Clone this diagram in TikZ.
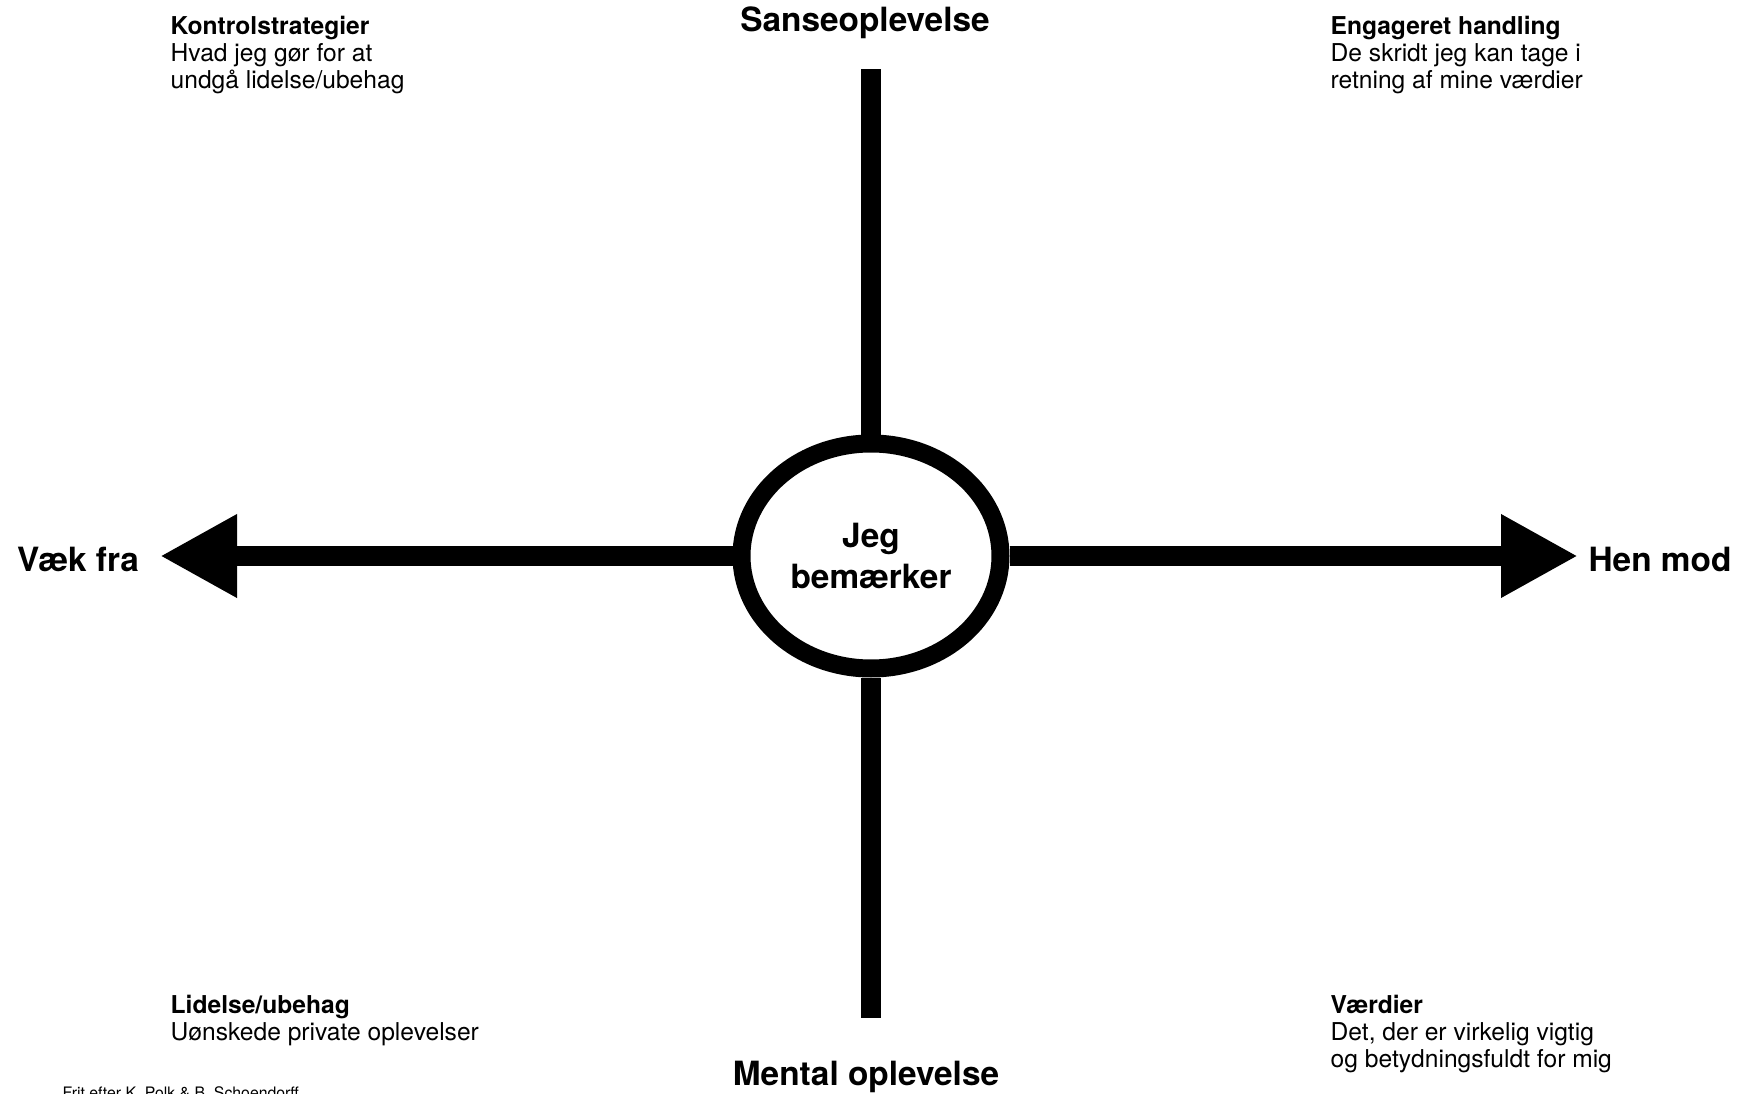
\documentclass[tikz,border=0pt]{standalone}
\usepackage{fontspec}
\setmainfont{TeX Gyre Heros}
\usetikzlibrary{arrows.meta,shapes.geometric}
\begin{document}
\begin{tikzpicture}

      % Styles for the thick axes, the labels at their ends and the four corner texts
      \tikzstyle{axis}=[line width=0.2cm, line cap=butt]
      \tikzstyle{axisarrow}=[axis, -{Triangle[length=0.77cm,width=0.78cm]}]
      \tikzstyle{pole}=[font=\fontsize{9.5}{11.4}\selectfont\bfseries, inner sep=0]
      \tikzstyle{corner}=[font=\fontsize{7}{7.7}\selectfont, align=left, anchor=north west, inner sep=0]
      \tikzstyle{credit}=[font=\fontsize{4.5}{5}\selectfont, anchor=base west, inner sep=0]


      % Define dimensions
      \def\cx{8.71}     % Centre of the cross
      \def\cy{5.37}

      \def\ew{2.59}     % Width of the ellipse
      \def\eh{2.25}     % Height of the ellipse

      \def\lx{1.70}     % Left edge of the left corner texts
      \def\rx{13.30}    % Left edge of the right corner texts


      \useasboundingbox (0,0) rectangle (17.48,10.93);

      % The ellipse in the middle
      \node (jeg) [draw, ellipse, line width=0.18cm, minimum width=\ew cm, minimum height=\eh cm,
                   pole, align=center] at (\cx,\cy) {Jeg\\bemærker};

      % Free ends of the four axes
      \coordinate (top)    at (\cx,10.24);
      \coordinate (bottom) at (\cx,0.75);
      \coordinate (left)   at (1.60,\cy);
      \coordinate (right)  at (15.78,\cy);

      % Draw the axes
      \draw [axis] (jeg.north) -- (top);
      \draw [axis] (jeg.south) -- (bottom);
      \draw [axisarrow] (jeg.west) -- (left);     % arrow pointing away
      \draw [axisarrow] (jeg.east) -- (right);    % arrow pointing towards

      % Labels at the ends of the axes
      \node (sanse)  [pole] at (8.65,10.70) {Sanseoplevelse};
      \node (mental) [pole] at (8.66,0.16)  {Mental oplevelse};
      \node (vaek)   [pole] at (0.78,5.34)  {Væk fra};
      \node (hen)    [pole] at (16.60,5.34) {Hen mod};

      % The four corners
      \node (kontrol)   [corner] at (\lx,10.774) {\textbf{Kontrolstrategier}\\Hvad jeg gør for at\\undgå lidelse/ubehag};
      \node (engageret) [corner] at (\rx,10.774) {\textbf{Engageret handling}\\De skridt jeg kan tage i\\retning af mine værdier};
      \node (lidelse)   [corner] at (\lx,0.989)  {\textbf{Lidelse/ubehag}\\Uønskede private oplevelser};
      \node (vaerdier)  [corner] at (\rx,0.989)  {\textbf{Værdier}\\Det, der er virkelig vigtig\\og betydningsfuldt for mig};

      % Source, cut by the lower edge
      \node (credit) [credit] at (0.62,-0.05) {Frit efter K. Polk \& B. Schoendorff};

\end{tikzpicture}
\end{document}
